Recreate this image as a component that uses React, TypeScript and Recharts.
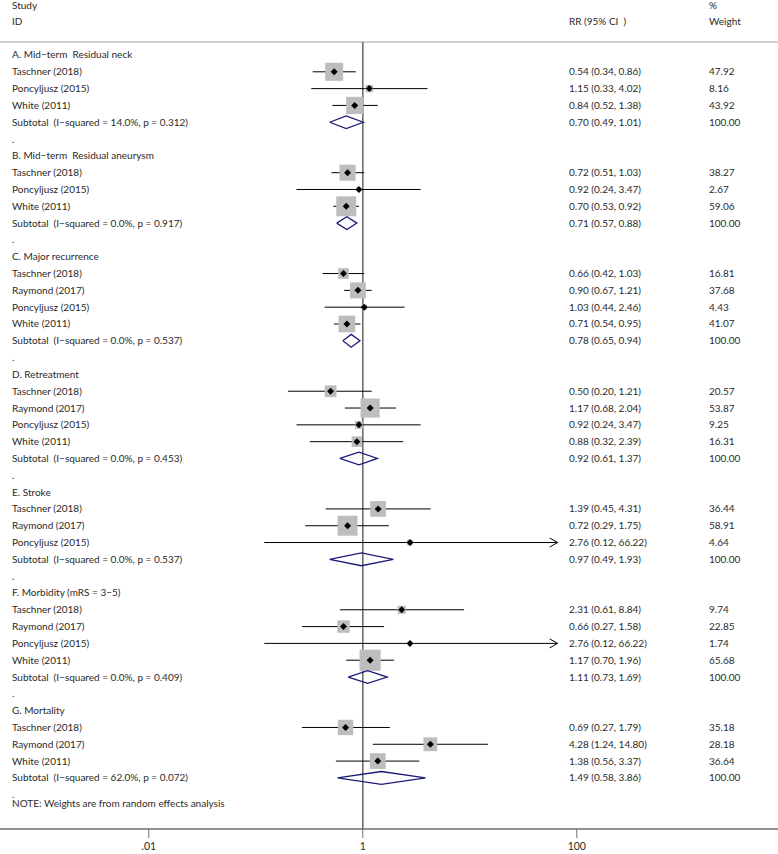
import React from 'react';
import { ComposedChart, Scatter, XAxis, YAxis, ReferenceLine, ErrorBar } from 'recharts';

// subgroups and studies
const groupTitles = [
  'A. Mid−term  Residual neck',
  'B. Mid−term  Residual aneurysm',
  'C. Major recurrence',
  'D. Retreatment',
  'E. Stroke',
  'F. Morbidity (mRS = 3−5)',
  'G. Mortality',
];

const studyNames = [
  ['Taschner (2018)', 'Poncyljusz (2015)', 'White (2011)'],
  ['Taschner (2018)', 'Poncyljusz (2015)', 'White (2011)'],
  ['Taschner (2018)', 'Raymond (2017)', 'Poncyljusz (2015)', 'White (2011)'],
  ['Taschner (2018)', 'Raymond (2017)', 'Poncyljusz (2015)', 'White (2011)'],
  ['Taschner (2018)', 'Raymond (2017)', 'Poncyljusz (2015)'],
  ['Taschner (2018)', 'Raymond (2017)', 'Poncyljusz (2015)', 'White (2011)'],
  ['Taschner (2018)', 'Raymond (2017)', 'White (2011)'],
];

const rr = [
  [0.54, 1.15, 0.84],
  [0.72, 0.92, 0.7],
  [0.66, 0.9, 1.03, 0.71],
  [0.5, 1.17, 0.92, 0.88],
  [1.39, 0.72, 2.76],
  [2.31, 0.66, 2.76, 1.17],
  [0.69, 4.28, 1.38],
];
const ciLow = [
  [0.34, 0.33, 0.52],
  [0.51, 0.24, 0.53],
  [0.42, 0.67, 0.44, 0.54],
  [0.2, 0.68, 0.24, 0.32],
  [0.45, 0.29, 0.12],
  [0.61, 0.27, 0.12, 0.7],
  [0.27, 1.24, 0.56],
];
const ciHigh = [
  [0.86, 4.02, 1.38],
  [1.03, 3.47, 0.92],
  [1.03, 1.21, 2.46, 0.95],
  [1.21, 2.04, 3.47, 2.39],
  [4.31, 1.75, 66.22],
  [8.84, 1.58, 66.22, 1.96],
  [1.79, 14.8, 3.37],
];
const weights = [
  [47.92, 8.16, 43.92],
  [38.27, 2.67, 59.06],
  [16.81, 37.68, 4.43, 41.07],
  [20.57, 53.87, 9.25, 16.31],
  [36.44, 58.91, 4.64],
  [9.74, 22.85, 1.74, 65.68],
  [35.18, 28.18, 36.64],
];

// pooled subtotals
const subRR = [0.7, 0.71, 0.78, 0.92, 0.97, 1.11, 1.49];
const subLow = [0.49, 0.57, 0.65, 0.61, 0.49, 0.73, 0.58];
const subHigh = [1.01, 0.88, 0.94, 1.37, 1.93, 1.69, 3.86];
const hetI2 = ['14.0%', '0.0%', '0.0%', '0.0%', '0.0%', '0.0%', '62.0%'];
const hetP = ['0.312', '0.917', '0.537', '0.453', '0.537', '0.409', '0.072'];

const xTicks = [0.01, 1, 100];
const xTickLabels = ['.01', '1', '100'];
const note = 'NOTE: Weights are from random effects analysis';

const FONT = 'Lato, sans-serif';
const TEXT = '#2a2a2a';
const X_MIN = 0.000407;
const X_MAX = 7585;
const Y_TOP = -0.773;
const Y_BOTTOM = 46.04;
const BOX_SCALE = 2.6;
const DIAMOND_H = 0.38;
const ARROW_FROM = 20; // CI ends beyond this get an arrow head

const fmt = (v: number) => v.toFixed(2);
const ciText = (m: number, l: number, h: number) => `${fmt(m)} (${fmt(l)}, ${fmt(h)})`;

type Row = { y: number; label: string; ci?: string; w?: string };
const rows: Row[] = [];
const studyPts: any[] = [];
const arrowPts: any[] = [];
const diamonds: any[][] = [];

let r = 0;
groupTitles.forEach((title, g) => {
  rows.push({ y: r++, label: title });
  studyNames[g].forEach((name, i) => {
    const m = rr[g][i];
    const lo = ciLow[g][i];
    const hi = ciHigh[g][i];
    studyPts.push({ x: m, y: r, err: [m - lo, hi - m], w: weights[g][i] });
    if (hi > ARROW_FROM) arrowPts.push({ x: hi, y: r });
    rows.push({ y: r++, label: name, ci: ciText(m, lo, hi), w: fmt(weights[g][i]) });
  });
  const s = { m: subRR[g], lo: subLow[g], hi: subHigh[g] };
  diamonds.push([
    { x: s.lo, y: r },
    { x: s.m, y: r - DIAMOND_H },
    { x: s.hi, y: r },
    { x: s.m, y: r + DIAMOND_H },
    { x: s.lo, y: r },
  ]);
  rows.push({
    y: r++,
    label: `Subtotal  (I−squared = ${hetI2[g]}, p = ${hetP[g]})`,
    ci: ciText(s.m, s.lo, s.hi),
    w: '100.00',
  });
  rows.push({ y: r++, label: '.' });
});
rows.push({ y: r - 0.45, label: note });

const rowByY = new Map(rows.map((row) => [row.y, row]));

const RowTick = (props: any) => {
  const { y, payload } = props;
  const row = rowByY.get(payload.value);
  if (!row) return null;
  const common = { y, dy: '0.35em', fontSize: 10, fontFamily: FONT, fill: TEXT, style: { whiteSpace: 'pre' as const } };
  return (
    <g>
      <text x={12} textAnchor="start" {...common}>{row.label}</text>
      {row.ci && <text x={569} textAnchor="start" {...common}>{row.ci}</text>}
      {row.w && <text x={709} textAnchor="start" {...common}>{row.w}</text>}
    </g>
  );
};

const BoxShape = (props: any) => {
  const { cx, cy, payload } = props;
  const s = BOX_SCALE * Math.sqrt(payload.w);
  return <rect x={cx - s / 2} y={cy - s / 2} width={s} height={s} fill="#bdbdbd" />;
};

const PointShape = (props: any) => {
  const { cx, cy } = props;
  const d = 3.5;
  return <path d={`M${cx - d},${cy}L${cx},${cy - d}L${cx + d},${cy}L${cx},${cy + d}Z`} fill="#000" />;
};

const ArrowShape = (props: any) => {
  const { cx, cy } = props;
  return <path d={`M${cx - 8},${cy - 4.5}L${cx},${cy}L${cx - 8},${cy + 4.5}`} fill="none" stroke="#000" strokeWidth={1} />;
};

const Blank = () => <g />;

const headStyle = { fontSize: 10, fontFamily: FONT, fill: TEXT };

export default function App() {
  return (
    <div style={{ position: 'absolute', left: 0, top: 0, width: 778, height: 854, background: '#fff' }}>
      <ComposedChart width={778} height={854} margin={{ top: 42, right: 0, bottom: 0, left: -1 }}>
        <XAxis
          dataKey="x"
          type="number"
          scale="log"
          domain={[X_MIN, X_MAX]}
          allowDataOverflow
          ticks={xTicks}
          interval={0}
          tickFormatter={(v: number) => xTickLabels[xTicks.indexOf(v)] ?? String(v)}
          axisLine={{ stroke: '#6e6e6e', strokeWidth: 1.6 }}
          tickLine={{ stroke: '#6e6e6e', strokeWidth: 1 }}
          tickSize={9}
          tickMargin={5}
          tick={{ fontSize: 10.5, fontFamily: FONT, fill: TEXT }}
          height={25}
        />
        <YAxis
          dataKey="y"
          type="number"
          domain={[Y_TOP, Y_BOTTOM]}
          allowDataOverflow
          reversed
          ticks={rows.map((row) => row.y)}
          interval={0}
          tick={(p: any) => <RowTick {...p} />}
          axisLine={false}
          tickLine={false}
          width={1}
        />
        <ReferenceLine y={Y_TOP} stroke="#cfcfcf" strokeWidth={2} />
        <ReferenceLine x={1} stroke="#6e6e6e" strokeWidth={1.6} />
        <Scatter data={studyPts} shape={BoxShape} isAnimationActive={false} />
        <Scatter data={studyPts} shape={PointShape} isAnimationActive={false}>
          <ErrorBar dataKey="err" direction="x" width={0} stroke="#000" strokeWidth={1} />
        </Scatter>
        <Scatter data={arrowPts} shape={ArrowShape} isAnimationActive={false} />
        {diamonds.map((pts, i) => (
          <Scatter
            key={i}
            data={pts}
            line={{ stroke: '#1c1c78', strokeWidth: 1.3 }}
            lineJointType="linear"
            shape={Blank}
            isAnimationActive={false}
          />
        ))}
      </ComposedChart>
      <svg width={778} height={40} style={{ position: 'absolute', left: 0, top: 0, pointerEvents: 'none' }}>
        <text x={12} y={5} dy="0.35em" {...headStyle}>Study</text>
        <text x={12} y={21} dy="0.35em" {...headStyle}>ID</text>
        <text x={569} y={21} dy="0.35em" {...headStyle} style={{ whiteSpace: 'pre' }}>RR (95% CI  )</text>
        <text x={709} y={5} dy="0.35em" {...headStyle}>%</text>
        <text x={709} y={21} dy="0.35em" {...headStyle}>Weight</text>
      </svg>
    </div>
  );
}
